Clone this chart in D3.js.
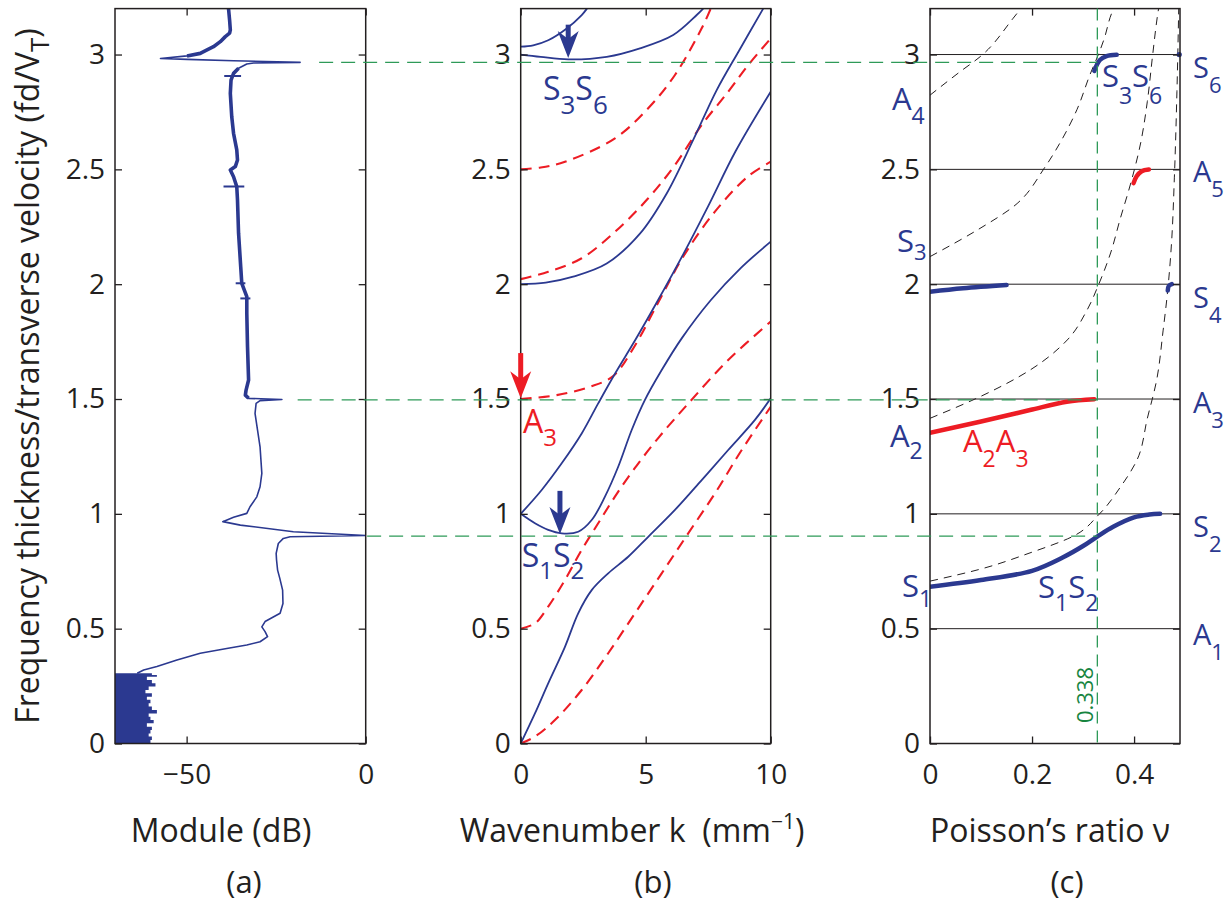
<!DOCTYPE html>
<html><head><meta charset="utf-8">
<script src="https://cdn.jsdelivr.net/npm/d3@7"></script>
<style>body{margin:0;background:#fff;} svg{display:block;}</style>
</head><body>
<svg id="chart" width="1228" height="903"></svg>
<script>
// ================= DATA =================
const yTicks = [0, 0.5, 1, 1.5, 2, 2.5, 3];

// ---- panel (a): measured spectrum (fd/VT, dB) ----
const specFreq = [3.2,3.15,3.107,3.093,3.078,3.056,3.034,3.02,3.005,2.994,2.983,2.979,2.973,2.966,2.963,2.959,2.94,2.918,2.889,2.831,2.729,2.657,2.585,2.541,2.512,2.497,2.468,2.425,2.367,2.222,2.076,2.004,1.946,1.873,1.728,1.583,1.539,1.517,1.503,1.498,1.493,1.481,1.437,1.365,1.292,1.176,1.118,1.074,1.031,1.002,0.985,0.966,0.951,0.922,0.906,0.9,0.893,0.871,0.828,0.8,0.755,0.72,0.668,0.61,0.567,0.531,0.508,0.487,0.465,0.443,0.429,0.414,0.393,0.364,0.335,0.32,0.306];
const specDb = [-38.3,-38.0,-37.8,-38.0,-39.2,-40.6,-42.5,-44.3,-46.2,-49.9,-57.3,-49.9,-36.9,-18.3,-31.3,-33.2,-35.5,-36.9,-37.6,-37.8,-37.4,-36.9,-36.0,-35.8,-36.4,-37.8,-36.9,-36.0,-35.8,-35.5,-34.9,-34.6,-33.2,-33.2,-33.0,-32.7,-33.4,-33.6,-32.7,-23.4,-29.5,-30.6,-30.9,-30.2,-29.5,-29.0,-29.5,-30.4,-32.3,-33.2,-36.9,-39.9,-35.0,-20.2,0,-21.1,-23.0,-24.4,-25.0,-24.9,-24.6,-24.0,-23.2,-23.1,-23.9,-28.1,-29.0,-28.1,-27.4,-29.5,-33.2,-38.8,-46.2,-52.7,-58.3,-62.0,-63.8];
const noiseFreq = [0.306,0.298,0.291,0.277,0.262,0.248,0.233,0.219,0.204,0.19,0.175,0.161,0.146,0.131,0.117,0.102,0.088,0.073,0.059,0.044,0.03,0.015,0];
const noiseTopDb = [-58.7,-59.7,-58.3,-61.1,-59.7,-58.7,-60.6,-61.5,-59.7,-61.1,-60.1,-60.6,-59.7,-58.3,-60.6,-60.1,-59.2,-61.1,-59.7,-60.1,-60.6,-59.7,-60.1];
const glitchFreq = [2.906, 2.425, 2.004, 1.938];
const glitchLoDb = [-39.5, -39.7, -36.3, -35.0];
const glitchHiDb = [-34.8, -33.9, -33.6, -32.2];

// ---- panel (b): dispersion curves [k (mm^-1), fd/VT] ----
const symS0 = [[0,0],[0.57,0.131],[1.1,0.262],[1.77,0.421],[2.3,0.567],[2.84,0.668],[3.5,0.741],[4.3,0.813],[5.1,0.9],[6.17,1.017],[7.24,1.147],[8.3,1.278],[9.37,1.409],[10,1.503]];
const symS1 = [[0,1.0],[0.57,0.959],[1.1,0.93],[1.64,0.915],[2.3,0.922],[2.84,0.973],[3.37,1.075],[3.9,1.205],[4.44,1.365],[4.97,1.496],[5.64,1.626],[6.44,1.764],[7.6,1.93],[8.8,2.07],[10,2.185]];
const symS2 = [[0,1.0],[0.84,1.104],[1.64,1.22],[2.44,1.35],[3.1,1.481],[3.77,1.61],[4.6,1.76],[5.44,1.92],[6.5,2.13],[7.5,2.34],[8.6,2.58],[10,2.838]];
const symS3 = [[0,2.0],[1,2.007],[2.1,2.033],[3.44,2.09],[4.77,2.22],[5.84,2.395],[6.9,2.628],[7.84,2.845],[8.75,3.02],[9.7,3.2]];
const symS4 = [[0,3.0],[0.8,2.99],[1.9,2.979],[3.44,2.99],[4.77,3.027],[6.1,3.085],[7.04,3.172],[7.3,3.2]];
const symS5 = [[0,3.034],[0.5,3.04],[1.1,3.062],[1.8,3.11],[2.44,3.172],[2.65,3.2]];
const antiA0 = [[0,0],[0.57,0.03],[1.37,0.102],[2.44,0.233],[3.5,0.393],[4.57,0.567],[5.64,0.741],[6.7,0.915],[7.77,1.089],[8.84,1.278],[10,1.466]];
const antiA1 = [[0,0.5],[0.57,0.523],[1.1,0.596],[1.77,0.712],[2.44,0.843],[3.1,0.959],[3.77,1.075],[4.57,1.2],[5.5,1.33],[6.7,1.48],[8.3,1.67],[10,1.837]];
const antiA2 = [[0,1.5],[1.44,1.517],[2.77,1.553],[3.7,1.6],[4.5,1.72],[5.5,1.92],[6.5,2.12],[7.77,2.316],[9.1,2.47],[10,2.533]];
const antiA3 = [[0,2.022],[1.1,2.054],[2.44,2.113],[3.77,2.228],[5.1,2.374],[6.17,2.519],[7.24,2.693],[8.3,2.838],[9.1,2.954],[10,3.07]];
const antiA4 = [[0,2.5],[0.8,2.508],[1.77,2.533],[3.77,2.635],[5.1,2.766],[6.17,2.911],[7.24,3.114],[7.6,3.2]];

// ---- panel (c): versus Poisson's ratio [nu, fd/VT] ----
const cutoffLevels = [0.5, 1, 1.5, 2, 2.5, 3];
const cutHalf = [[0,0.707],[0.1,0.76],[0.196,0.83],[0.281,0.903],[0.331,0.997],[0.373,1.116],[0.406,1.236],[0.426,1.416],[0.444,1.58],[0.457,1.8],[0.466,1.975],[0.473,2.166],[0.479,2.466],[0.484,2.84],[0.4875,3.2]];
const cutOne = [[0,1.416],[0.098,1.51],[0.196,1.626],[0.269,1.757],[0.308,1.888],[0.331,2.001],[0.354,2.136],[0.373,2.286],[0.393,2.436],[0.413,2.616],[0.426,2.796],[0.436,2.99],[0.446,3.171],[0.448,3.2]];
const cutThreeHalf = [[0,2.12],[0.098,2.243],[0.163,2.337],[0.2254,2.51],[0.255,2.616],[0.288,2.76],[0.314,2.915],[0.33,3.0],[0.341,3.066],[0.357,3.185],[0.36,3.2]];
const cutTwo = [[0,2.823],[0.0588,2.925],[0.098,2.99],[0.163,3.158],[0.178,3.2]];
const zgvS1S2 = [[0,0.683],[0.1,0.712],[0.2,0.752],[0.26,0.81],[0.3,0.86],[0.327,0.9],[0.359,0.944],[0.4,0.985],[0.43,0.997],[0.451,1.0]];
const zgvA2A3 = [[0,1.353],[0.098,1.401],[0.196,1.452],[0.268,1.488],[0.322,1.499]];
const zgvS3S4 = [[0,1.967],[0.065,1.982],[0.15,1.996]];
const zgvS4 = [[0.466,1.972],[0.468,1.992],[0.474,2.0]];
const zgvA5 = [[0.399,2.44],[0.405,2.47],[0.415,2.492],[0.429,2.499]];
const zgvS3S6 = [[0.322,2.929],[0.333,2.976],[0.346,2.993],[0.366,2.999]];
const zgvS6 = [[0.4885,3.0]];
const nuMeasured = 0.328;
const nuLabel = "0.338";
const guideFreq = [2.966, 1.496, 0.903];
const guideStartDb = [-13, -19, 0.4];

// ================= DRAWING =================
const FONT = "'Open Sans', 'Noto Sans', sans-serif";
const BLUE = "#2b3990", RED = "#ed1c24", GREEN = "#2e9a58", GREENTXT = "#17853f", INK = "#231f20";
const svg = d3.select("#chart");

const y = d3.scaleLinear().domain([0, 3.2]).range([743.5, 8.6]);
const xa = d3.scaleLinear().domain([-70, 0]).range([115, 365.7]);
const xb = d3.scaleLinear().domain([0, 10]).range([520.7, 770.7]);
const xc = d3.scaleLinear().domain([0, 0.49]).range([930, 1180]);

const defs = svg.append("defs");
function clip(id, x) {
  defs.append("clipPath").attr("id", id).append("rect")
    .attr("x", x.range()[0]).attr("y", y.range()[1])
    .attr("width", x.range()[1] - x.range()[0]).attr("height", y.range()[0] - y.range()[1]);
  return svg.append("g").attr("clip-path", `url(#${id})`);
}
function axes(x, xticks) {
  const [x0, x1] = x.range(), [yb, yt] = y.range();
  const g = svg.append("g");
  g.append("g").attr("transform", `translate(0,${yb})`)
    .call(d3.axisBottom(x).tickValues(xticks).tickSize(-7).tickPadding(21).tickFormat(d3.format("")));
  g.append("g").attr("transform", `translate(0,${yt})`)
    .call(d3.axisTop(x).tickValues(xticks).tickSize(-7).tickFormat(""));
  g.append("g").attr("transform", `translate(${x0},0)`)
    .call(d3.axisLeft(y).tickValues(yTicks).tickSize(-7).tickPadding(10).tickFormat(d3.format("")));
  g.append("g").attr("transform", `translate(${x1},0)`)
    .call(d3.axisRight(y).tickValues(yTicks).tickSize(-7).tickFormat(""));
  g.selectAll(".domain").remove();
  g.selectAll(".tick line").attr("stroke", INK).attr("stroke-width", 1.3);
  g.selectAll(".tick text").attr("fill", INK).attr("font-size", 28).attr("font-family", FONT);
  g.append("rect").attr("x", x0).attr("y", yt).attr("width", x1 - x0).attr("height", yb - yt)
    .attr("fill", "none").attr("stroke", INK).attr("stroke-width", 1.5);
}
function sublabel(parent, x, yy, parts, color, big, small, shift) {
  const t = parent.append("text").attr("x", x).attr("y", yy).attr("fill", color).attr("font-family", FONT);
  let down = false;
  parts.forEach(([s, sub]) => {
    const ts = t.append("tspan").text(s).attr("font-size", sub ? small : big);
    if (sub && !down) { ts.attr("dy", shift); down = true; }
    else if (!sub && down) { ts.attr("dy", -shift); down = false; }
  });
  return t;
}
function arrow(parent, x, yFrom, yTip, color) {
  const hl = 27, hw = 10.5, notch = 19;
  parent.append("line").attr("x1", x).attr("x2", x).attr("y1", yFrom).attr("y2", yTip - notch + 2)
    .attr("stroke", color).attr("stroke-width", 5);
  parent.append("path")
    .attr("d", `M${x},${yTip} L${x + hw},${yTip - hl} L${x},${yTip - notch} L${x - hw},${yTip - hl} Z`)
    .attr("fill", color);
}

// ---------- panel (a) ----------
const gA = clip("clipA", xa);
gA.append("path").datum(d3.zip(noiseFreq, noiseTopDb))
  .attr("d", d3.area().y(d => y(d[0])).x0(xa(-70)).x1(d => xa(d[1])).curve(d3.curveStepAfter))
  .attr("fill", BLUE);
const spec = d3.zip(specFreq, specDb);
const specLine = d3.line().x(d => xa(d[1])).y(d => y(d[0]));
gA.append("path").datum(spec).attr("d", specLine).attr("fill", "none")
  .attr("stroke", BLUE).attr("stroke-width", 1.6).attr("stroke-linejoin", "round");
gA.append("path").datum(spec)
  .attr("d", specLine.defined(d => d[0] >= 1.502 && !(d[0] < 2.992 && d[0] > 2.955)))
  .attr("fill", "none").attr("stroke", BLUE).attr("stroke-width", 3.6).attr("stroke-linejoin", "round");
gA.selectAll(".gl").data(d3.zip(glitchFreq, glitchLoDb, glitchHiDb)).join("line")
  .attr("x1", d => xa(d[1])).attr("x2", d => xa(d[2])).attr("y1", d => y(d[0])).attr("y2", d => y(d[0]))
  .attr("stroke", BLUE).attr("stroke-width", 2);
axes(xa, [-50, 0]);

// ---------- panel (b) ----------
const gB = clip("clipB", xb);
const lineB = d3.line().x(d => xb(d[0])).y(d => y(d[1])).curve(d3.curveCatmullRom.alpha(0.5));
[antiA0, antiA1, antiA2, antiA3, antiA4].forEach(m =>
  gB.append("path").datum(m).attr("d", lineB).attr("fill", "none")
    .attr("stroke", RED).attr("stroke-width", 2.1).attr("stroke-dasharray", "11,7"));
[symS0, symS1, symS2, symS3, symS4, symS5].forEach(m =>
  gB.append("path").datum(m).attr("d", lineB).attr("fill", "none")
    .attr("stroke", BLUE).attr("stroke-width", 1.8));
axes(xb, [0, 5, 10]);
arrow(svg, xb(1.9), y(3.13), y(2.985), BLUE);
arrow(svg, xb(1.57), y(1.1), y(0.912), BLUE);
arrow(svg, xb(0), y(1.7), y(1.503), RED);
sublabel(svg, xb(0.89), y(2.80), [["S",0],["3",1],["S",0],["6",1]], BLUE, 32, 26, 14);
sublabel(svg, xb(0.04), y(0.768), [["S",0],["1",1],["S",0],["2",1]], BLUE, 32, 24, 12);
sublabel(svg, xb(0.09), y(1.352), [["A",0],["3",1]], RED, 32, 24, 13);

// ---------- panel (c) ----------
const gC = clip("clipC", xc);
gC.selectAll(".lev").data(cutoffLevels).join("line")
  .attr("x1", xc(0)).attr("x2", xc(0.49)).attr("y1", d => y(d)).attr("y2", d => y(d))
  .attr("stroke", INK).attr("stroke-width", 1);
const lineC = d3.line().x(d => xc(d[0])).y(d => y(d[1])).curve(d3.curveMonotoneY);
[cutHalf, cutOne, cutThreeHalf, cutTwo].forEach(c =>
  gC.append("path").datum(c).attr("d", lineC).attr("fill", "none")
    .attr("stroke", INK).attr("stroke-width", 1).attr("stroke-dasharray", "8,6"));
const lineZ = d3.line().x(d => xc(d[0])).y(d => y(d[1])).curve(d3.curveCatmullRom.alpha(0.5));
[[zgvS1S2, BLUE], [zgvA2A3, RED], [zgvS3S4, BLUE], [zgvS4, BLUE], [zgvA5, RED], [zgvS3S6, BLUE]].forEach(([c, col]) =>
  gC.append("path").datum(c).attr("d", lineZ).attr("fill", "none")
    .attr("stroke", col).attr("stroke-width", 4.5).attr("stroke-linecap", "round"));
svg.selectAll(".dot").data(zgvS6).join("circle")
  .attr("cx", d => xc(d[0])).attr("cy", d => y(d[1])).attr("r", 2.6).attr("fill", BLUE);
axes(xc, [0, 0.2, 0.4]);
sublabel(svg, xc(-0.0745), y(2.758), [["A",0],["4",1]], BLUE, 31, 23, 14);
sublabel(svg, xc(-0.0647), y(2.14), [["S",0],["3",1]], BLUE, 31, 22, 8);
sublabel(svg, xc(-0.0784), y(1.29), [["A",0],["2",1]], BLUE, 31, 23, 12);
sublabel(svg, xc(-0.0549), y(0.638), [["S",0],["1",1]], BLUE, 31, 23, 10);
sublabel(svg, xc(0.337), y(2.858), [["S",0],["3",1],["S",0],["6",1]], BLUE, 31, 23, 17);
sublabel(svg, xc(0.0647), y(1.269), [["A",0],["2",1],["A",0],["3",1]], RED, 31, 23, 15);
sublabel(svg, xc(0.2117), y(0.6335), [["S",0],["1",1],["S",0],["2",1]], BLUE, 31, 23, 13);
const rightLab = [[2.898, "S", "6"], [2.445, "A", "5"], [1.896, "S", "4"], [1.439, "A", "3"], [0.899, "S", "2"], [0.429, "A", "1"]];
rightLab.forEach(([v, L, n]) => sublabel(svg, 1193, y(v), [[L,0],[n,1]], BLUE, 29, 22, 15));

// ---------- green guides ----------
guideFreq.forEach((f, i) =>
  svg.append("line").attr("x1", xa(guideStartDb[i])).attr("x2", xc(nuMeasured))
    .attr("y1", y(f)).attr("y2", y(f)).attr("stroke", GREEN).attr("stroke-width", 1.3)
    .attr("stroke-dasharray", "14,8"));
svg.append("line").attr("x1", xc(nuMeasured)).attr("x2", xc(nuMeasured))
  .attr("y1", y(3.2)).attr("y2", y(0)).attr("stroke", GREEN).attr("stroke-width", 1.3)
  .attr("stroke-dasharray", "12,7");
svg.append("text").attr("transform", `translate(${xc(nuMeasured) - 4},${y(0.211)}) rotate(-90)`)
  .attr("text-anchor", "middle").attr("font-size", 22).attr("font-family", FONT)
  .attr("fill", GREENTXT).text(nuLabel);

// ---------- titles ----------
function title(x, yy, size, txt) {
  return svg.append("text").attr("x", x).attr("y", yy).attr("text-anchor", "middle")
    .attr("font-size", size).attr("font-family", FONT).attr("fill", INK).text(txt);
}
title(221, 842, 32, "Module (dB)");
const wt = svg.append("text").attr("x", 632).attr("y", 842).attr("text-anchor", "middle")
  .attr("font-family", FONT).attr("fill", INK).attr("font-size", 32);
wt.append("tspan").text("Wavenumber k\u00a0\u00a0(mm");
wt.append("tspan").attr("font-size", 21).attr("dy", -13).text("\u22121");
wt.append("tspan").attr("dy", 13).text(")");
title(1050, 842, 32, "Poisson\u2019s ratio \u03bd");
title(244, 893, 31, "(a)");
title(653, 893, 31, "(b)");
title(1067, 893, 31, "(c)");

const yt = svg.append("text").attr("transform", "translate(39,376) rotate(-90)")
  .attr("text-anchor", "middle").attr("font-family", FONT).attr("fill", INK).attr("font-size", 32);
yt.append("tspan").text("Frequency thickness/transverse velocity (fd/V");
yt.append("tspan").attr("font-size", 26).attr("dy", 10).text("T");
yt.append("tspan").attr("dy", -10).text(")");
const len = yt.node().getComputedTextLength();
const target = 725;
if (len > target) {
  yt.attr("font-size", 32 * target / len);
  yt.selectAll("tspan").filter((d, i) => i === 1).attr("font-size", 26 * target / len);
}
</script>
</body></html>
